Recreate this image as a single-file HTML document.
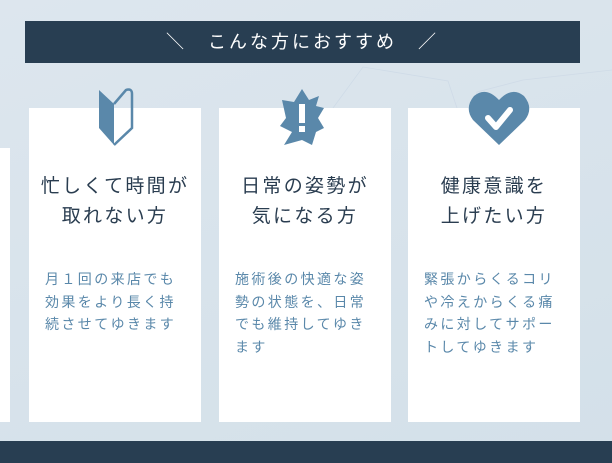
<!DOCTYPE html>
<html><head><meta charset="utf-8"><style>
*{margin:0;padding:0;box-sizing:border-box}
body{width:612px;height:463px;overflow:hidden;background:linear-gradient(160deg,#dde6ee,#d3e0e9);font-family:"Liberation Sans","Noto Sans CJK JP",sans-serif;position:relative}
.banner{position:absolute;left:25px;top:21px;width:555px;height:42px;background:#283e52;color:#fff;font-size:18px;letter-spacing:3px;text-align:center;line-height:42px}
.card{position:absolute;top:108px;width:172px;height:314px;background:#fff}
.t{position:absolute;width:100%;text-align:center;font-size:19px;line-height:30px;letter-spacing:2.3px;color:#2a3d50}
.b{position:absolute;left:16px;width:138px;font-size:14px;line-height:22.5px;letter-spacing:2.4px;color:#5a88aa}
.icon{position:absolute;top:88px}
</style></head><body>
<svg style="position:absolute;left:0;top:0" width="612" height="463"><polyline points="333,108 363,67 448,81 457,108" fill="none" stroke="#cfdbe7" stroke-width="0.8"/><polyline points="472,108 477,92 523,80 612,70" fill="none" stroke="#cfdbe7" stroke-width="0.8"/></svg>
<div class="banner">＼　こんな方におすすめ　／</div>
<div style="position:absolute;left:0;top:148px;width:10px;height:274px;background:#fff"></div>
<div class="card" style="left:29px"><div class="t" style="top:64px">忙しくて時間が<br>取れない方</div><div class="b" style="top:160px">月１回の来店でも効果をより長く持続させてゆきます</div></div>
<div class="card" style="left:219px"><div class="t" style="top:64px">日常の姿勢が<br>気になる方</div><div class="b" style="top:160px">施術後の快適な姿勢の状態を、日常でも維持してゆきます</div></div>
<div class="card" style="left:408px"><div class="t" style="top:64px">健康意識を<br>上げたい方</div><div class="b" style="top:160px">緊張からくるコリや冷えからくる痛みに対してサポートしてゆきます</div></div>
<svg class="icon" style="left:96px" width="40" height="58" viewBox="0 0 40 58"><path d="M3,2 L3,40 L18,57 L18,16 Z" fill="#5a88aa"/><path d="M18,16 L30,2 Q36,0 36,6 L36,40 L18,57" fill="none" stroke="#5a88aa" stroke-width="2.5"/></svg>
<svg class="icon" style="left:272px" width="62" height="58" viewBox="0 0 62 58"><path d="M10,12 L22,14 L30,1 L37,12 L47,8 L44,18 L52,20 L46,30 L52,40 L44,44 L40,57 L30,52 L12,57 L20,44 L8,38 L14,30 Z" fill="#5a88aa"/><rect x="27" y="16" width="6" height="19" fill="#fff"/><rect x="27" y="38" width="6" height="6" fill="#fff"/></svg>
<svg class="icon" style="left:468px" width="62" height="58" viewBox="0 0 62 58"><path d="M31,57 L5,32 Q-4,20 6,8 Q18,-2 31,12 Q44,-2 56,8 Q66,20 57,32 Z" fill="#5a88aa"/><path d="M20,30 L28,39 L42,22" fill="none" stroke="#fff" stroke-width="6" stroke-linecap="round" stroke-linejoin="round"/></svg>
<div style="position:absolute;left:0;top:441px;width:612px;height:22px;background:#283e52"></div>
</body></html>
